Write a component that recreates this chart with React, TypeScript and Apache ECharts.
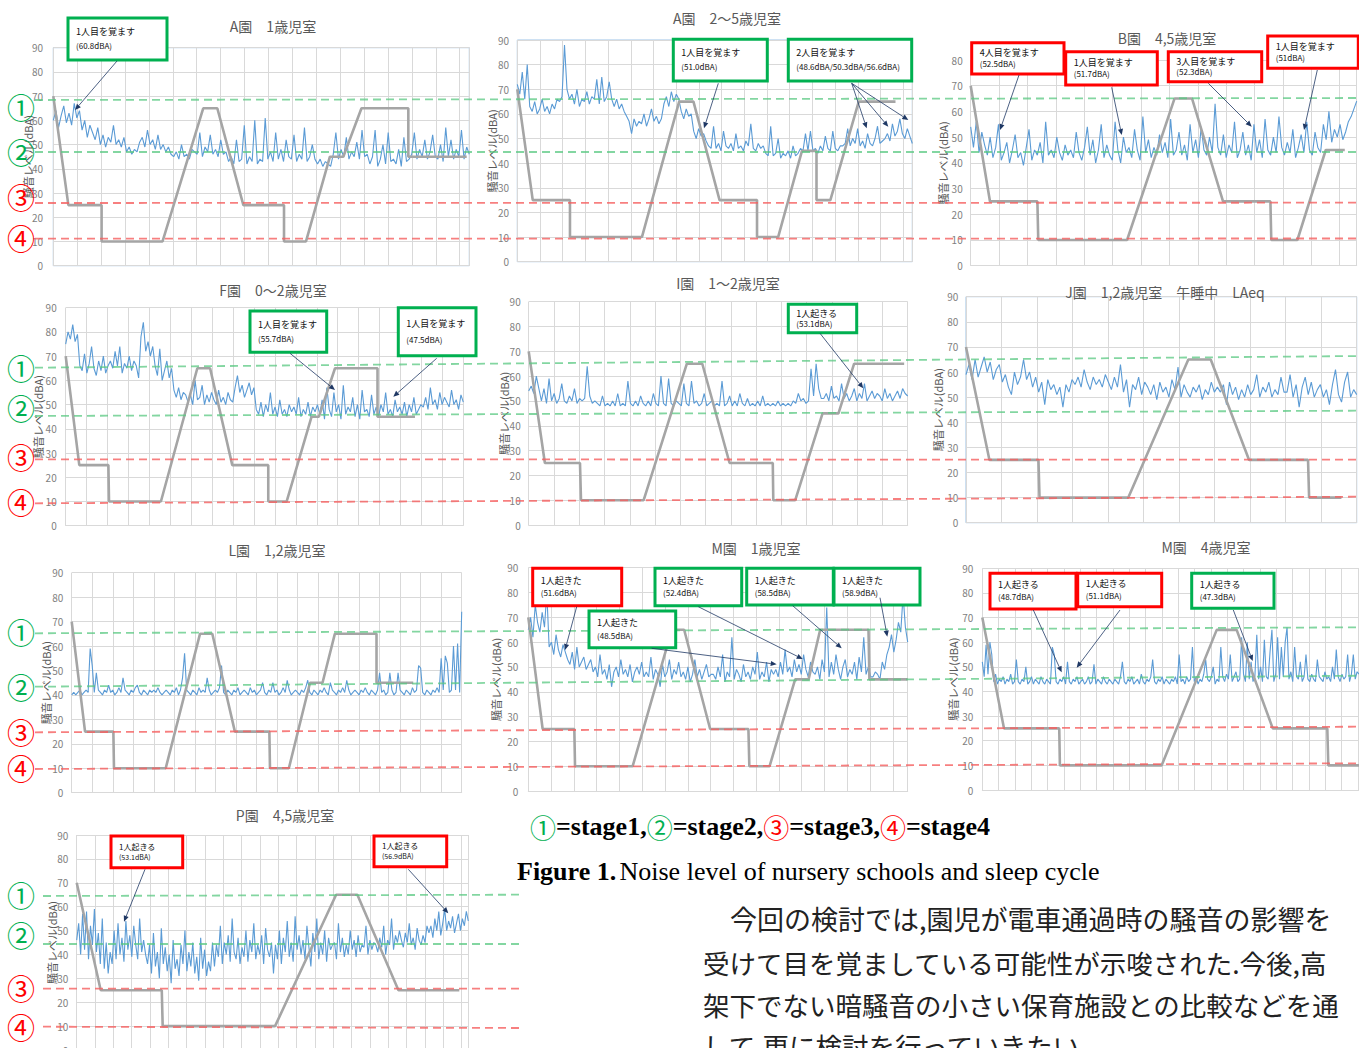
import React, { useEffect, useRef } from "react";
import * as echarts from "echarts";

const W = 1359;
const H = 1048;
const FONT = '"Noto Sans CJK JP", "Noto Sans", sans-serif';
const SERIF = '"Liberation Serif", "DejaVu Serif", serif';
const Y_NAME = "騒音レベル(dBA)";

// ---------- noise level (dBA) series ----------
const A1_NOISE = [60,64,57,62,66,59,63,58,67,61,64, 56,60,53,58,55,52,57, 50,54,49,53,51,58,50,52,49,53, 47,49,46,48,47, 51,53,49,56,50,52,48,54, 48,50,47,49,46, 45,47,44,50,45,46,44,48, 47,46,55,45,49,47,54,46,48,45,52,46,47, 43,45,42,52,43,44,58,42,45,43,60,42,44,43, 61,44,47,43,55,44,48,43,52,45,44,54,43,46,44,57,43,45,50,44, 42,44,41,43,42,41, 46,55,44,48,45,53,44,47,45,51,44,56,45,46, 42,45,56,41,44,50,42,55,43,44,42,48,41,53,43,44, 46,55,44,48,45,52,44,47,54,45, 44,50,43,57,45,52,44,48,45,56,44,49,46];
const A2_NOISE = [72,68,77,66,80, 63,61,65,60,62,66,61,63,60,64,62,66, 65,67,88,70,66,68, 64,70,63,66,65,69,64,67, 66,74,64,75,65,67,73,66, 63,66,62,64,61, 59,57,52,58,55,57, 56,60,55,58,62,57,59,56,58, 64,67,63,69,65,68,66, 61,58,62,59,60, 53,50,54,51,52,49, 47,46,55,46,48,45,53,47,46,48,45,52,46,47,45,49, 47,56,46,45,48,46,47, 44,43,55,43,44,50,42,44,43,45,42,47,43,44, 46,45,52,45,53,45,46,44,47,45,51,46,45,53,46,45,47, 47,48,54,47,50,48,54,47,49,46,52,48,47,50,55,48,49, 50,52,49,56,51,53,58,52,50,54,51,48];
const B_NOISE = [54,46,56,44,52,47,43,50,42,46,55,41,44,48,40,45,51,42,44,39, 46,53,41,45,43,48,40,56,43,45,42,50,44,41,47,43,45,42,52,44, 41,46,54,43,49,40,45,55,42,47,43,41,56,45,40,50,44,46,42,53, 45,41,58,44,49,42,46,43,51,44,48,42,57,43,45,52,43,47,41,55, 44,49,42,54,45,43,50,44,63,46,43,51,42,47,44,56,42,45,52,43, 47,41,55,44,49,42,57,45,43,50,44,58,46,43,48,44,53,42,46,51, 44,56,45,43,52,46,44,55,49,60,48,53,50,55,49,52,56,58,61,64];
const F_NOISE = [75,80,77,83,76,79, 66,64,71,63,67,74,65,62,68,64,70,63,66, 68,65,72,66,74,63,67,65,70,64,68,66, 61, 78,84,72,76,70,74, 66,62,73,60,64,68,61,65, 56,53,57,52,55,54, 51,54,50,60,52,53,58,50,54,51,55,52,50,56,51,53,50,55,52,51, 57,62,55,58,53,56,59,54,57, 48,46,51,45,50,47,55,46,49,45,52,46,48,45,50,47,49,46,53,45,48,46,51,45,49,47,50, 46,52,44,57,48,45,55,47,50,44,58,46,49,47,53,45,50,44,56,47,48,45,54,46,49, 45,50,47,55,46,48,45,52,47,49,46,51,45,50,47,53,46,48,50, 49,53,48,57,50,52,48,55,50,53,51,49,56,50,52,48,54,51];
const I_NOISE = [54,56,53,60,55, 50,55,49,59,50,53,49,51,57,50,49,52,50,55,49,51, 50,51,64,52,49,50, 49,48,52,48,49,48,50,48,53,48,49,48,58,49,48,50,48,52,49,48,50,48,53,49,48,60,49,48,59,49,48,50, 49,48,57,49,48,58,49,50,48,49,53,48,49,50,48, 49,48,58,48,49,52,48,50,48,53,49,48,51,48,49,48,50,48,52,48,49, 48,49,48,50,48,49,48,49,48, 50,49,53,50,51,49,50, 63,52,65,55,51, 51,53,50,56,51,52,50,57,51,53,50,52,55,50,53,51,57,50,52,54,51,53,52,50,55,51,53,50,52,54,51,55,53,52];
const J_NOISE = [59,63,57,65,58,62,66,60,64,57,61,63, 56,59,54,51,60,55,58,65,57,60,54,58, 52,56,47,57,53,55,51,54,46,55,52,57, 55,58,54,61,56,53,58,55,57,54,59,56, 53,58,54,63,52,57,46,55,53,58,51,56,54, 51,55,49,56,52,54,50,57,53,62,50,55,52, 50,54,52,55,49,53,51,56,52,54, 52,55,47,56,51,54,49,53,50,55, 51,53,59,50,54,52,56,50,53,51,58,52, 52,59,50,55,46,54,58,51,56,50,53,55, 50,53,47,55,61,51,48,56,60,50,53,51];
const L_NOISE = [40,41,40,41,42,40,41,42,41,59, 52,41,49,42,41,40,42,41,44,41, 42,40,41,43,41,47,42,41,40,42, 41,43,44,41,40,42,41,40,42,41, 42,41,43,41,40,41,42,41,40,42, 41,43,40,42,47,57,42,41,40,42, 41,40,43,41,42,41,47,42,40,41, 42,41,43,52,41,40,42,41,40,42, 41,43,40,41,42,41,40,43,41,42, 40,41,42,45,41,40,42,41,45,41, 42,40,41,43,41,46,42,40,41,42, 41,40,42,41,43,46,41,40,42,41, 40,42,41,43,41,40,45,42,41,40, 42,41,43,41,46,42,40,41,42,41, 40,42,41,43,41,40,42,41,40,42, 49,41,42,40,41,49,42,40,41,49, 42,41,40,42,41,40,43,41,42,52, 51,41,40,42,41,40,42,41,43,41, 55,42,56,53,41,42,60,42,61,41, 74];
const M1_NOISE = [65,70,62,75,68,64,72,66, 80,58,60,55,63,57,54,59,56, 53,51,56,49,58,50,52,54,49,51,53, 48,50,46,55,47,49,45,51,42,48,50,46,53,47,49,46,51,44,48,50,47,52,46, 48,46,54,45,49,47,42,51,46,48,53,45,49,47,52,46,48,45,50,44,47,53,46,49,45,48,51,46,47, 47,45,50,46,55,44,48,46,62,45,49,47,44,51,46,48,45,50,47,56,45,48,46,52,44,49,47, 49,46,52,47,57,48,50,46,53,48,51,47,55,49,46,52,48, 47,50,45,53,48,74,46,52,47,55,49,45,50,53,46,49,47,52,45,54,48,62,47,50,46, 46,48,47,45,52,49, 55,58,63,56,61,68,64,79,66,60];
const M4_NOISE = [52,46,59,47,60,55,44,47,43,45, 44,46,43,45,44,47,43,44,53,44, 43,45,44,50,43,44,46,43,45,44, 43,46,44,43,45,44,43,58,55,44, 43,45,44,46,43,52,44,43,45,44, 46,43,44,45,43,44,46,43,44,51, 43,45,44,43,46,44,43,45,44,43, 45,44,43,46,52,44,43,45,44,46, 43,44,45,43,47,44,43,45,44,46, 53,44,43,45,44,46,43,45,44,43, 45,44,46,43,55,44,45,43,46,44, 45,58,44,46,43,45,44,47,53,45, 44,46,50,43,45,44,58,46,44,47, 45,55,44,46,48,44,45,62,47,44, 60,45,52,44,46,63,45,50,44,61, 46,45,56,65,44,47,62,45,58,46, 60,66,45,48,44,58,46,45,52,44, 46,55,45,44,47,45,44,53,46,45, 44,48,45,46,44,50,45,57,46,44, 47,45,46,55,44,47,55,45,48,47];
const P_NOISE = [46,53,40,57,42,58,38,52,44,59,41,49,36,55, 34,45,32,41,36, 50,38,53,40,47,37,54,42,48,39,52,44,38,55,41,46,40, 36,44,32,49,35,41,30,51,36,43,33,40,28,46,34,38,31,44,36,50,33,41,35,45,32,39,29,47,34,42,31,37,33,45,35, 44,39,52,36,45,40,48,37,55,41,38,47,36,43,39,50,37,46,41,53,38,44,40,48,36,51,42,39,45, 32,44,38,50,36,47,41,54,39,45,37,56,42,48,40,46,38,52,43,35,49,41,55,38,45,40,50,37,47,42,44, 45,38,53,41,47,39,44,40,50,42,46,39,48,41,44,43,52,40,46,42,45, 44,41,47,43,52,40,46,44,55,42,48,45,50,46,43,49,45,53,44,47,42,51,46,44,48,45,52, 49,52,47,55,50,58,48,53,59,50,54,51,56,49,53,57,50,55,52,58,54];

// ---------- sleep stage (gray) breakpoints [time, level] ----------
const A1_STAGE = [[0,70],[6.3,25],[20.2,25],[20.2,10],[45.7,10],[62.7,65],[68.6,65],[79.5,25],[96.5,25],[96.5,10],[105.7,10],[115.7,45],[121.3,45],[128.9,65],[148.5,65],[148.5,45],[172.9,45]];
const A2_STAGE = [[0,70],[6.8,25],[23.2,25],[23.2,10],[54.9,10],[71.3,65],[77.6,65],[89.1,25],[105.6,25],[105.6,10],[114.9,10],[125.4,45],[131.8,45],[131.8,25],[137.9,25],[150.4,65],[166.6,65]];
const B_STAGE = [[0,70],[6.8,25],[23.5,25],[23.8,10],[55.1,10],[71.8,65],[78,65],[88.9,25],[105.6,25],[105.9,10],[115.1,10],[125.1,45],[131.8,45]];
const F_STAGE = [[0,70],[6.5,25],[20.4,25],[20.7,10],[45.5,10],[62.9,65],[69,65],[79.6,25],[96.8,25],[96.8,10],[105.6,10],[117.5,45],[121,45],[128.7,65],[149,65],[149,45],[166.9,45]];
const I_STAGE = [[0,70],[6.4,25],[20.3,25],[20.7,10],[45.5,10],[62.6,65],[68.7,65],[79.5,25],[96.6,25],[96.8,10],[105.5,10],[116.3,45],[122.6,45],[128.8,65],[148.6,65]];
const J_STAGE = [[0,70],[6.6,25],[20.4,25],[20.7,10],[45.7,10],[62.6,65],[68.9,65],[79.7,25],[96.3,25],[96.6,10],[105.7,10]];
const L_STAGE = [[0,70],[6.5,25],[20.3,25],[20.6,10],[45.8,10],[62.5,65],[68.5,65],[79.5,25],[96.3,25],[96.6,10],[105.8,10],[116.1,45],[122.2,45],[128.2,65],[148.5,65],[148.5,45],[166.4,45]];
const M1_STAGE = [[0,70],[6.3,25],[20.2,25],[20.5,10],[45.8,10],[63,65],[68.4,65],[79.8,25],[96.6,25],[97,10],[105.9,10],[117.1,45],[123,45],[128.1,65],[149.3,65],[149.7,45],[166.5,45]];
const M4_STAGE = [[0,70],[13.3,25],[47.1,25],[47.5,10],[109.8,10],[143.5,65],[155.7,65],[177.8,25],[211.2,25],[211.8,10],[230.6,10]];
const P_STAGE = [[0,70],[13.1,25],[46.4,25],[46.9,10],[108.2,10],[141.5,65],[153.1,65],[175.5,25],[208.7,25]];

// ---------- panel layout ----------
const PANELS = [
  { title: "A園　1歳児室", tx: 273, ty: 26, rect: [53.3, 47.7, 469.3, 265.7], yMax: 90, xMax: 174, border: true, nameX: 28, labelRight: 43, noise: A1_NOISE, stage: A1_STAGE },
  { title: "A園　2～5歳児室", tx: 727, ty: 18, rect: [517.3, 40, 912.3, 261.7], yMax: 90, xMax: 174, border: true, nameX: 492, labelRight: 509, noise: A2_NOISE, stage: A2_STAGE },
  { title: "B園　4,5歳児室", tx: 1167, ty: 38, rect: [970.7, 60, 1356.7, 265.7], yMax: 80, xMax: 136, border: false, nameX: 943, labelRight: 962.7, noise: B_NOISE, stage: B_STAGE },
  { title: "F園　0～2歳児室", tx: 273, ty: 290, rect: [65.7, 307.7, 463.3, 525.7], yMax: 90, xMax: 190, border: false, nameX: 38, labelRight: 56.7, noise: F_NOISE, stage: F_STAGE },
  { title: "I園　1～2歳児室", tx: 728, ty: 283, rect: [528.7, 301.7, 907.7, 525], yMax: 90, xMax: 150, border: false, nameX: 504, labelRight: 520.7, noise: I_NOISE, stage: I_STAGE },
  { title: "J園　1,2歳児室　午睡中　LAeq", tx: 1165, ty: 292, rect: [966, 296.7, 1356.7, 522.7], yMax: 90, xMax: 110, border: true, nameX: 938, labelRight: 958.3, noise: J_NOISE, stage: J_STAGE },
  { title: "L園　1,2歳児室", tx: 277, ty: 550, rect: [71.7, 572.7, 461.7, 792.7], yMax: 90, xMax: 190, border: false, nameX: 46, labelRight: 63.3, noise: L_NOISE, stage: L_STAGE },
  { title: "M園　1歳児室", tx: 756, ty: 548, rect: [528.3, 567.7, 907.7, 791], yMax: 90, xMax: 166.5, border: false, nameX: 496, labelRight: 518.3, noise: M1_NOISE, stage: M1_STAGE },
  { title: "M園　4歳児室", tx: 1206, ty: 547, rect: [982.3, 568.3, 1359, 790], yMax: 90, xMax: 230.6, border: false, nameX: 953, labelRight: 973.3, noise: M4_NOISE, stage: M4_STAGE },
  { title: "P園　4,5歳児室", tx: 285, ty: 815, rect: [76.7, 835, 468.3, 1050], yMax: 90, xMax: 213.6, border: false, nameX: 52, labelRight: 68.3, noise: P_NOISE, stage: P_STAGE },
];

// ---------- annotation boxes ----------
const GREEN = "#00B050";
const RED = "#FF0000";
const BOXES = [
  { b: [68, 18, 99, 42], c: GREEN, t: ["1人目を覚ます", "(60.8dBA)"], a: [[117, 61, 75, 110]] },
  { b: [673.3, 39.3, 94, 41.7], c: GREEN, t: ["1人目を覚ます", "(51.0dBA)"], a: [[718.3, 83.3, 704, 128.3]] },
  { b: [788.3, 39.3, 123.4, 41.7], c: GREEN, t: ["2人目を覚ます", "(48.6dBA/50.3dBA/56.6dBA)"], a: [[851.7, 83.3, 866.7, 128.3], [851.7, 83.3, 888.3, 126.7], [851.7, 83.3, 908.3, 120]] },
  { b: [971.7, 42.7, 92.3, 31.3], c: RED, t: ["4人目を覚ます", "(52.5dBA)"], a: [[1019, 75, 1000, 130]] },
  { b: [1065.7, 51.7, 91.6, 33.3], c: RED, t: ["1人目を覚ます", "(51.7dBA)"], a: [[1111.7, 87.3, 1121.7, 135]] },
  { b: [1168.3, 51.7, 93.4, 30], c: RED, t: ["3人目を覚ます", "(52.3dBA)"], a: [[1208.3, 83.3, 1251.7, 126.7]] },
  { b: [1267.7, 36, 90.6, 32.3], c: RED, t: ["1人目を覚ます", "(51dBA)"], a: [[1317.3, 70, 1304, 130]] },
  { b: [250, 311, 76.7, 41.3], c: GREEN, t: ["1人目を覚ます", "(55.7dBA)"], a: [[290, 353.3, 335, 390]] },
  { b: [398.3, 307.7, 77.7, 48], c: GREEN, t: ["1人目を覚ます", "(47.5dBA)"], a: [[436.7, 358.3, 393.3, 396.7]] },
  { b: [788.3, 304.3, 68.4, 28.4], c: GREEN, t: ["1人起きる", "(53.1dBA)"], a: [[820, 333.3, 863.3, 388.3]] },
  { b: [532.7, 568.3, 89, 37.4], c: RED, t: ["1人起きた", "(51.6dBA)"], a: [[576.7, 606.7, 565, 650]] },
  { b: [589, 611, 86.7, 36.7], c: GREEN, t: ["1人起きた", "(48.5dBA)"], a: [[651.7, 648.3, 776.7, 664.3]] },
  { b: [655, 568.3, 86.7, 37.4], c: GREEN, t: ["1人起きた", "(52.4dBA)"], a: [[698.3, 606.7, 802.7, 659]] },
  { b: [746.7, 568.3, 86.6, 36.7], c: GREEN, t: ["1人起きた", "(58.5dBA)"], a: [[792.7, 605.7, 841.7, 648.3]] },
  { b: [834, 568.3, 86, 36.7], c: GREEN, t: ["1人起きた", "(58.9dBA)"], a: [[880, 597.7, 887.3, 636.7]] },
  { b: [990, 573.3, 86, 35.7], c: RED, t: ["1人起きる", "(48.7dBA)"], a: [[1033.3, 610, 1061.7, 672.3]] },
  { b: [1077.7, 573.3, 84, 33.4], c: RED, t: ["1人起きる", "(51.1dBA)"], a: [[1120, 610, 1076.7, 667.7]] },
  { b: [1191.7, 573.3, 82.3, 35], c: GREEN, t: ["1人起きる", "(47.3dBA)"], a: [[1233.3, 610, 1252.7, 661]] },
  { b: [111, 836, 71.7, 31.7], c: RED, t: ["1人起きる", "(53.1dBA)"], a: [[145, 869.3, 124, 921.7]] },
  { b: [374, 836, 72.7, 30.7], c: RED, t: ["1人起きる", "(56.9dBA)"], a: [[408.3, 869.3, 448.3, 913.3]] },
];

// ---------- stage guide lines and circled labels ----------
const STAGE_MARKS = ["①", "②", "③", "④"];
const STAGE_COLORS = [GREEN, GREEN, RED, RED];
const GUIDE_ROWS = [
  { x1: 35, x2: 1359, ys: [[100, 98], [152, 152], [203, 202.7], [238.7, 238.5]], marks: [106.7, 151.7, 196.7, 238.3] },
  { x1: 35, x2: 1359, ys: [[367.7, 356], [416, 410.7], [459.3, 459.7], [503.3, 496.7]], marks: [368.3, 408.3, 456.7, 501.7] },
  { x1: 35, x2: 1359, ys: [[633.3, 627.3], [686.7, 675.7], [732.3, 726.7], [769, 763.3]], marks: [631.7, 686.7, 731.7, 768.3] },
  { x1: 43, x2: 520, ys: [[896, 894.7], [944, 944], [988.7, 988.7], [1026.7, 1028]], marks: [895, 935, 988.3, 1026.7] },
];

const PARAGRAPH = [
  "今回の検討では,園児が電車通過時の騒音の影響を",
  "受けて目を覚ましている可能性が示唆された.今後,高",
  "架下でない暗騒音の小さい保育施設との比較などを通",
  "して,更に検討を行っていきたい.",
];

function arrow(x1: number, y1: number, x2: number, y2: number) {
  const dx = x2 - x1, dy = y2 - y1;
  const len = Math.hypot(dx, dy);
  const ux = dx / len, uy = dy / len;
  const hl = 6, hw = 2.6;
  const bx = x2 - ux * hl, by = y2 - uy * hl;
  return [
    { type: "line", z: 110, shape: { x1, y1, x2: bx, y2: by }, style: { stroke: "#1F3864", lineWidth: 0.8 } },
    { type: "polygon", z: 110, shape: { points: [[x2, y2], [bx - uy * hw, by + ux * hw], [bx + uy * hw, by - ux * hw]] }, style: { fill: "#1F3864" } },
  ];
}

function buildOption() {
  const grid = PANELS.map((p) => ({
    left: p.rect[0], top: p.rect[1], width: p.rect[2] - p.rect[0], height: p.rect[3] - p.rect[1],
    show: p.border, borderColor: "#9DC3E6", borderWidth: 1, backgroundColor: "transparent",
    containLabel: false, outerBoundsMode: "none",
  }));
  const xAxis = PANELS.map((p, i) => ({
    type: "value", gridIndex: i, min: 0, max: p.xMax, interval: 10,
    axisLabel: { show: false }, axisTick: { show: false },
    axisLine: { show: true, lineStyle: { color: "#D9D9D9" } },
    splitLine: { show: true, lineStyle: { color: "#D9D9D9", width: 1 } },
  }));
  const yAxis = PANELS.map((p, i) => ({
    type: "value", gridIndex: i, min: 0, max: p.yMax, interval: 10,
    axisLabel: { color: "#7F7F7F", fontSize: 10, margin: p.rect[0] - p.labelRight, fontFamily: FONT },
    axisTick: { show: false }, axisLine: { show: false },
    splitLine: { show: true, lineStyle: { color: "#D9D9D9", width: 1 } },
  }));
  const series: any[] = [];
  PANELS.forEach((p, i) => {
    const n = p.noise.length;
    series.push({
      type: "line", xAxisIndex: i, yAxisIndex: i, symbol: "none", silent: true, z: 2,
      data: p.noise.map((v, k) => [(k * p.xMax) / (n - 1), v]),
      lineStyle: { color: "#5B9BD5", width: 1.1 },
    });
    series.push({
      type: "line", xAxisIndex: i, yAxisIndex: i, symbol: "none", silent: true, z: 3,
      data: p.stage,
      lineStyle: { color: "#A5A5A5", width: 2.6 },
    });
  });

  const els: any[] = [];
  PANELS.forEach((p) => {
    els.push({ type: "text", z: 100, x: p.tx, y: p.ty, style: { text: p.title, fontSize: 14, fill: "#595959", fontFamily: FONT, align: "center", verticalAlign: "middle" } });
    els.push({ type: "text", z: 100, x: p.nameX, y: (p.rect[1] + p.rect[3]) / 2, rotation: Math.PI / 2, style: { text: Y_NAME, fontSize: 11, fill: "#595959", fontFamily: FONT, align: "center", verticalAlign: "middle" } });
  });
  GUIDE_ROWS.forEach((r) => {
    r.ys.forEach((yy, k) => {
      els.push({ type: "line", z: 101, shape: { x1: r.x1, y1: yy[0], x2: r.x2, y2: yy[1] }, style: { stroke: k < 2 ? "rgba(90,200,130,0.75)" : "rgba(245,95,95,0.8)", lineWidth: 1.8, lineDash: [8, 5] } });
    });
    r.marks.forEach((my, k) => {
      els.push({ type: "text", z: 107, x: 21, y: my, style: { text: STAGE_MARKS[k], fontSize: 28, fill: STAGE_COLORS[k], fontFamily: FONT, align: "center", verticalAlign: "middle" } });
    });
  });
  BOXES.forEach((bx) => {
    const [x, y, w, h] = bx.b;
    const fs = y > 800 ? 8 : 9;
    els.push({ type: "rect", z: 105, shape: { x, y, width: w, height: h }, style: { fill: "#FFFFFF", stroke: bx.c, lineWidth: 3 } });
    els.push({ type: "text", z: 106, x: x + 8, y: y + h * 0.32, style: { text: bx.t[0], fontSize: fs, fill: "#111", fontFamily: FONT, verticalAlign: "middle" } });
    els.push({ type: "text", z: 106, x: x + 8, y: y + h * 0.66, style: { text: bx.t[1], fontSize: fs - 1, fill: "#111", fontFamily: FONT, verticalAlign: "middle" } });
    bx.a.forEach((a) => els.push(...arrow(a[0], a[1], a[2], a[3])));
  });
  // caption
  els.push({
    type: "text", z: 100, x: 530, y: 826.7,
    style: {
      text: "{g|①}{b|=stage1,}{g|②}{b|=stage2,}{r|③}{b|=stage3,}{r|④}{b|=stage4}",
      verticalAlign: "middle",
      rich: {
        g: { fill: GREEN, fontSize: 26, fontFamily: FONT },
        r: { fill: RED, fontSize: 26, fontFamily: FONT },
        b: { fill: "#000", fontSize: 26, fontWeight: "bold", fontFamily: SERIF },
      },
    },
  });
  els.push({
    type: "text", z: 100, x: 517, y: 871,
    style: {
      text: "{b|Figure 1.} {n|Noise level of nursery schools and sleep cycle}",
      verticalAlign: "middle",
      rich: {
        b: { fill: "#000", fontSize: 26, fontWeight: "bold", fontFamily: SERIF },
        n: { fill: "#000", fontSize: 26, fontFamily: SERIF },
      },
    },
  });
  const paraY = [918, 962, 1004, 1045];
  PARAGRAPH.forEach((line, k) => {
    els.push({ type: "text", z: 100, x: k === 0 ? 730 : 703, y: paraY[k], style: { text: line, fontSize: k === 0 ? 27 : 26.5, fill: "#222", fontFamily: FONT, verticalAlign: "middle" } });
  });

  return {
    animation: false,
    backgroundColor: "#FFFFFF",
    textStyle: { fontFamily: FONT },
    grid, xAxis, yAxis, series,
    graphic: { elements: els },
  };
}

export default function App() {
  const ref = useRef<HTMLDivElement>(null);
  useEffect(() => {
    const chart = echarts.init(ref.current as HTMLDivElement, null, { renderer: "svg", width: W, height: H });
    chart.setOption(buildOption() as any);
    return () => chart.dispose();
  }, []);
  return <div ref={ref} style={{ position: "absolute", left: 0, top: 0, width: W, height: H, background: "#fff" }} />;
}
